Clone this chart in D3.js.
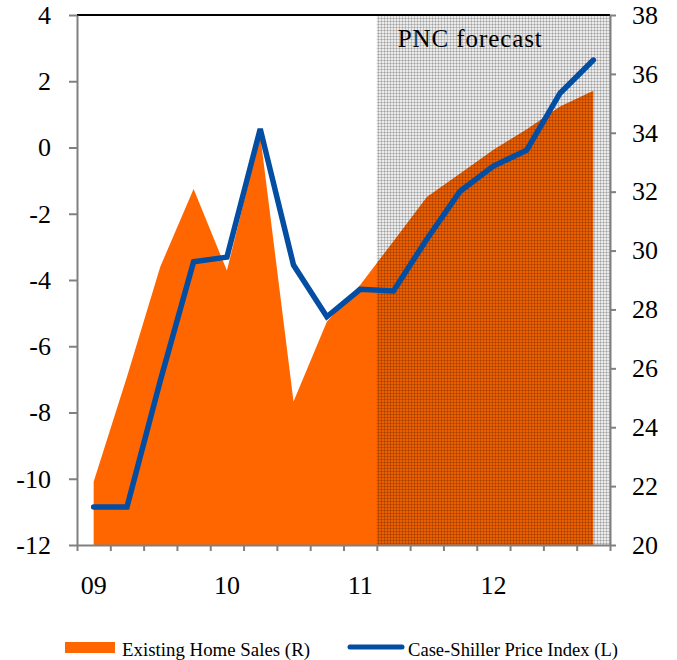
<!DOCTYPE html>
<html>
<head>
<meta charset="utf-8">
<script src="https://cdn.jsdelivr.net/npm/d3@7"></script>
<style>
  html, body { margin: 0; padding: 0; background: #fff; }
  svg { display: block; }
  text { font-family: "Liberation Serif", "Times New Roman", serif; fill: #000; }
</style>
</head>
<body>
<svg id="chart" width="677" height="660"></svg>
<script>
// ---- data (quarterly, 2009Q1 - 2012Q4) ----
const quarters = ["09Q1","09Q2","09Q3","09Q4","10Q1","10Q2","10Q3","10Q4",
                  "11Q1","11Q2","11Q3","11Q4","12Q1","12Q2","12Q3","12Q4"];
const yearLabels = ["09","10","11","12"];
const yearLabelQuarters = ["09Q1","10Q1","11Q1","12Q1"];
// Existing Home Sales (R axis)
const homeSales = [22.15, 25.71, 29.45, 32.09, 29.32, 33.92, 24.87, 27.58,
                   28.83, 30.32, 31.82, 32.62, 33.42, 34.12, 34.89, 35.43];
// Case-Shiller Price Index (L axis)
const caseShiller = [-10.85, -10.85, -7.04, -3.45, -3.31, 0.56, -3.55, -5.11,
                     -4.28, -4.33, -2.77, -1.32, -0.56, -0.08, 1.64, 2.64];
const leftTicks = [-12, -10, -8, -6, -4, -2, 0, 2, 4];
const rightTicks = [20, 22, 24, 26, 28, 30, 32, 34, 36, 38];
const forecastStart = "11Q2";
const forecastLabel = "PNC forecast";
const seriesNames = ["Existing Home Sales (R)", "Case-Shiller Price Index (L)"];

// ---- layout ----
const FONT = '"Liberation Serif", "Times New Roman", serif';
const L = 77, R = 610, T = 15, B = 545;
const svg = d3.select("#chart");

const x = d3.scaleBand().domain(quarters).range([L, R]).padding(0);
const xq = d3.scaleLinear().domain([0, quarters.length]).range([L, R]);
const yL = d3.scaleLinear().domain([-12, 4]).range([B, T]);
const yR = d3.scaleLinear().domain([20, 38]).range([B, T]);
const cx = q => x(q) + x.bandwidth() / 2;

// pattern for forecast shading
const defs = svg.append("defs");
const pat = defs.append("pattern").attr("id", "dots")
  .attr("patternUnits", "userSpaceOnUse").attr("width", 3).attr("height", 3)
  .attr("x", 0).attr("y", 0);
pat.append("rect").attr("width", 3).attr("height", 3).attr("fill", "#000").attr("fill-opacity", 0.08);
pat.append("rect").attr("width", 3).attr("height", 1).attr("fill", "#000").attr("fill-opacity", 0.17);
pat.append("rect").attr("width", 1).attr("height", 3).attr("fill", "#000").attr("fill-opacity", 0.17);

// area: Existing Home Sales
const area = d3.area()
  .x((d, i) => cx(quarters[i]))
  .y0(B)
  .y1(d => yR(d));
svg.append("path").datum(homeSales)
  .attr("d", area)
  .attr("fill", "#ff6600");

// forecast shading
svg.append("rect")
  .attr("x", x(forecastStart)).attr("y", T)
  .attr("width", R - x(forecastStart)).attr("height", B - T)
  .attr("fill", "url(#dots)");

// line: Case-Shiller
const line = d3.line()
  .x((d, i) => cx(quarters[i]))
  .y(d => yL(d));
svg.append("path").datum(caseShiller)
  .attr("d", line)
  .attr("fill", "none")
  .attr("stroke", "#034ea2")
  .attr("stroke-width", 5.5)
  .attr("stroke-linecap", "round")
  .attr("stroke-linejoin", "miter");

// forecast label
svg.append("text")
  .attr("x", x(forecastStart) + 21).attr("y", 47)
  .style("font-family", FONT)
  .style("font-size", "25px")
  .attr("textLength", 144).attr("lengthAdjust", "spacing")
  .text(forecastLabel);

// top border
svg.append("line").attr("x1", L).attr("x2", R).attr("y1", T).attr("y2", T)
  .attr("stroke", "#000").attr("stroke-width", 2);

function styleAxis(g) {
  g.attr("font-family", null).attr("font-size", null);
  g.selectAll("path.domain").attr("stroke", "#808080").attr("stroke-width", 2);
  g.selectAll(".tick line").attr("stroke", "#808080").attr("stroke-width", 2);
  g.selectAll(".tick text")
    .style("font-family", FONT)
    .style("font-size", "26px").attr("fill", "#000");
}

// left axis
svg.append("g").attr("transform", `translate(${L},0)`)
  .call(d3.axisLeft(yL).tickValues(leftTicks).tickSize(8).tickSizeOuter(0).tickPadding(18)
    .tickFormat(d => d < 0 ? "-" + Math.abs(d) : d))
  .call(styleAxis);

// right axis
svg.append("g").attr("transform", `translate(${R},0)`)
  .call(d3.axisRight(yR).tickValues(rightTicks).tickSize(6).tickSizeOuter(0).tickPadding(16))
  .call(styleAxis);

// bottom axis
svg.append("g").attr("transform", `translate(0,${B})`)
  .call(d3.axisBottom(xq).tickValues(d3.range(quarters.length + 1)).tickSize(6)
    .tickSizeOuter(0).tickFormat(""))
  .call(styleAxis);

// year labels
svg.append("g").selectAll("text").data(yearLabels).join("text")
  .attr("x", (d, i) => cx(yearLabelQuarters[i]))
  .attr("y", 594)
  .attr("text-anchor", "middle")
  .style("font-family", FONT)
  .style("font-size", "26px")
  .text(d => d);

// legend
const lg = svg.append("g");
lg.append("rect").attr("x", 65).attr("y", 642).attr("width", 50).attr("height", 11)
  .attr("fill", "#ff6600");
lg.append("text").attr("x", 122).attr("y", 656)
  .style("font-family", FONT).style("font-size", "19px")
  .attr("textLength", 188).attr("lengthAdjust", "spacingAndGlyphs")
  .text(seriesNames[0]);
lg.append("line").attr("x1", 350).attr("x2", 402).attr("y1", 647).attr("y2", 647)
  .attr("stroke", "#034ea2").attr("stroke-width", 5).attr("stroke-linecap", "round");
lg.append("text").attr("x", 408).attr("y", 656)
  .style("font-family", FONT).style("font-size", "19px")
  .attr("textLength", 210).attr("lengthAdjust", "spacingAndGlyphs")
  .text(seriesNames[1]);
</script>
</body>
</html>
